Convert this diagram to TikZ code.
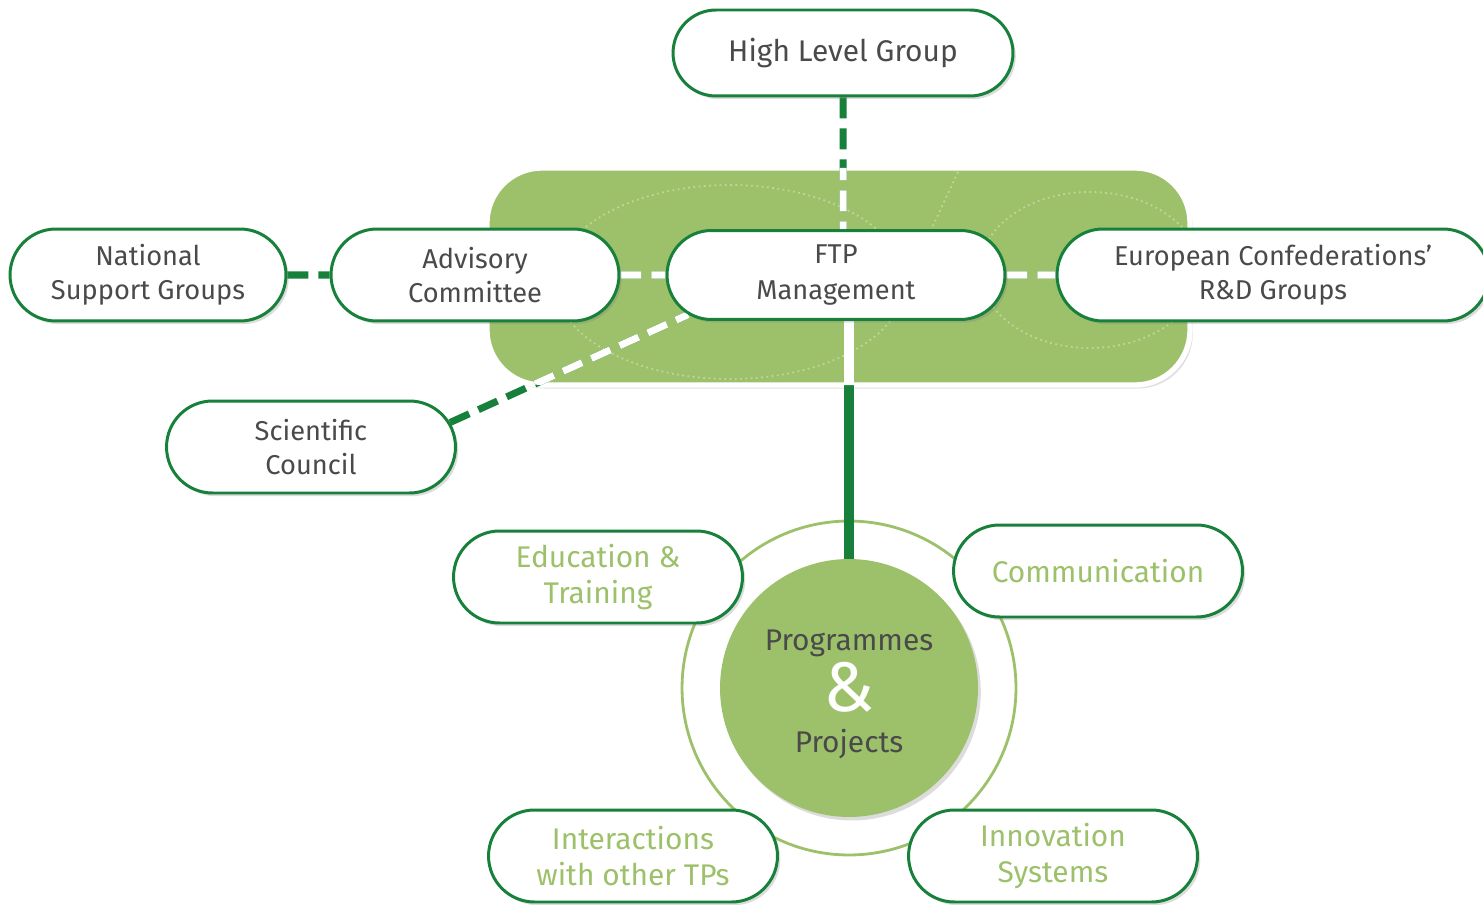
\documentclass[tikz,border=0pt]{standalone}
\usepackage{fontspec}
\setmainfont{Fira Sans}
\usetikzlibrary{shapes.misc,shadows,backgrounds}

\definecolor{ftpdark}{HTML}{17803A}
\definecolor{ftplight}{HTML}{9DC16B}
\definecolor{ftptext}{HTML}{4A4A4A}

\tikzset{
  unitbox/.style={rounded rectangle, draw=ftpdark, line width=1.7pt, fill=white,
    align=center, text=ftptext, inner sep=0pt, minimum width=5.78cm, minimum height=1.84cm,
    font=\fontsize{15.5}{19.5}\selectfont,
    drop shadow={shadow xshift=1.6pt, shadow yshift=-1.8pt, opacity=.28}},
  subbox/.style={unitbox, text=ftplight, font=\fontsize{17}{20}\selectfont},
  progdisc/.style={circle, fill=ftplight, minimum size=5.16cm, inner sep=0pt, align=center,
    text=ftptext, font=\fontsize{17}{20}\selectfont,
    drop shadow={shadow xshift=1.6pt, shadow yshift=-2pt, opacity=.28}},
  dashlink/.style={line width=4pt, dash pattern=on 0.42cm off 0.2cm},
  fulllink/.style={line width=5.5pt},
  deco/.style={white, opacity=.35, line width=1pt, dotted}
}

\begin{document}
\begin{tikzpicture}[x=0.02cm, y=-0.02cm]

\useasboundingbox (0,0) rectangle (1483,905);

% Top group
\node[unitbox, minimum width=6.8cm, minimum height=1.72cm, font=\fontsize{17}{20}\selectfont] (hlg) at (843,53) {High Level Group};

% Row of FTP bodies
\node[unitbox, minimum width=5.52cm] (nsg) at (148,275) {National\\Support Groups};
\node[unitbox, minimum width=5.76cm] (adv) at (475,275) {Advisory\\Committee};
\node[unitbox, minimum width=6.76cm, minimum height=1.78cm] (ftp) at (836,275) {FTP\\[1pt]Management};
\node[unitbox, minimum width=8.64cm] (ecg) at (1273,275) {European Confederations’\\R\&D Groups};
\node[unitbox] (sci) at (311,447) {Scientific\\Council};

% Programmes and the four activities round it
\node[progdisc] (prog) at (849,688) {\rule{0pt}{19pt}Programmes\\[2pt]{\fontsize{40}{40}\selectfont\color{white}\&}\\[3.5pt]Projects};
\node[subbox] (edu) at (598,577) {Education \&\\Training};
\node[subbox] (com) at (1098,571) {Communication};
\node[subbox] (itp) at (633,856) {Interactions\\with other TPs};
\node[subbox] (ins) at (1053,856) {Innovation\\Systems};

\coordinate (hlgfoot) at (hlg |- ftp);
\coordinate (proghead) at (prog |- ftp);

\begin{pgfonlayer}{background}
% Green panel behind the FTP row
\path[fill=ftplight, draw=white, line width=3pt, rounded corners=1.1cm,
  drop shadow={shadow xshift=1.6pt, shadow yshift=-2pt, opacity=.25}] (487,168) rectangle (1190,385);
\begin{scope}
\clip[rounded corners=1.1cm] (487,168) rectangle (1190,385);
\draw[deco] (730,282) ellipse [x radius=3.5cm, y radius=1.94cm];
\draw[deco] (1090,270) ellipse [x radius=2.2cm, y radius=1.56cm];
\draw[deco] (958,172) -- (930,232);
\end{scope}

% Ring round Programmes
\draw[ftplight, line width=1.6pt] (prog.center) circle [radius=3.34cm];
\begin{scope}
\clip (prog.center) circle [radius=2.56cm];
\draw[deco] (722,680) .. controls (800,645) and (900,650) .. (978,690);
\draw[deco] (765,610) .. controls (830,615) and (900,630) .. (965,665);
\draw[deco] (945,615) .. controls (900,700) and (860,760) .. (805,810);
\end{scope}

% Links, green outside the panel
\foreach \i/\j in {hlg/hlgfoot, nsg/adv, adv/ftp, ftp/ecg, sci.10/ftp.195}
  \draw[dashlink, ftpdark] (\i) -- (\j);
\draw[fulllink, ftpdark] (proghead) -- (prog);

% Links, white inside the panel
\begin{scope}
\clip[rounded corners=1.1cm] (487,168) rectangle (1190,385);
\foreach \i/\j in {hlg/hlgfoot, nsg/adv, adv/ftp, ftp/ecg, sci.10/ftp.195}
  \draw[dashlink, white] (\i) -- (\j);
\draw[fulllink, white] (proghead) -- (prog);
\end{scope}
\end{pgfonlayer}

\end{tikzpicture}
\end{document}
